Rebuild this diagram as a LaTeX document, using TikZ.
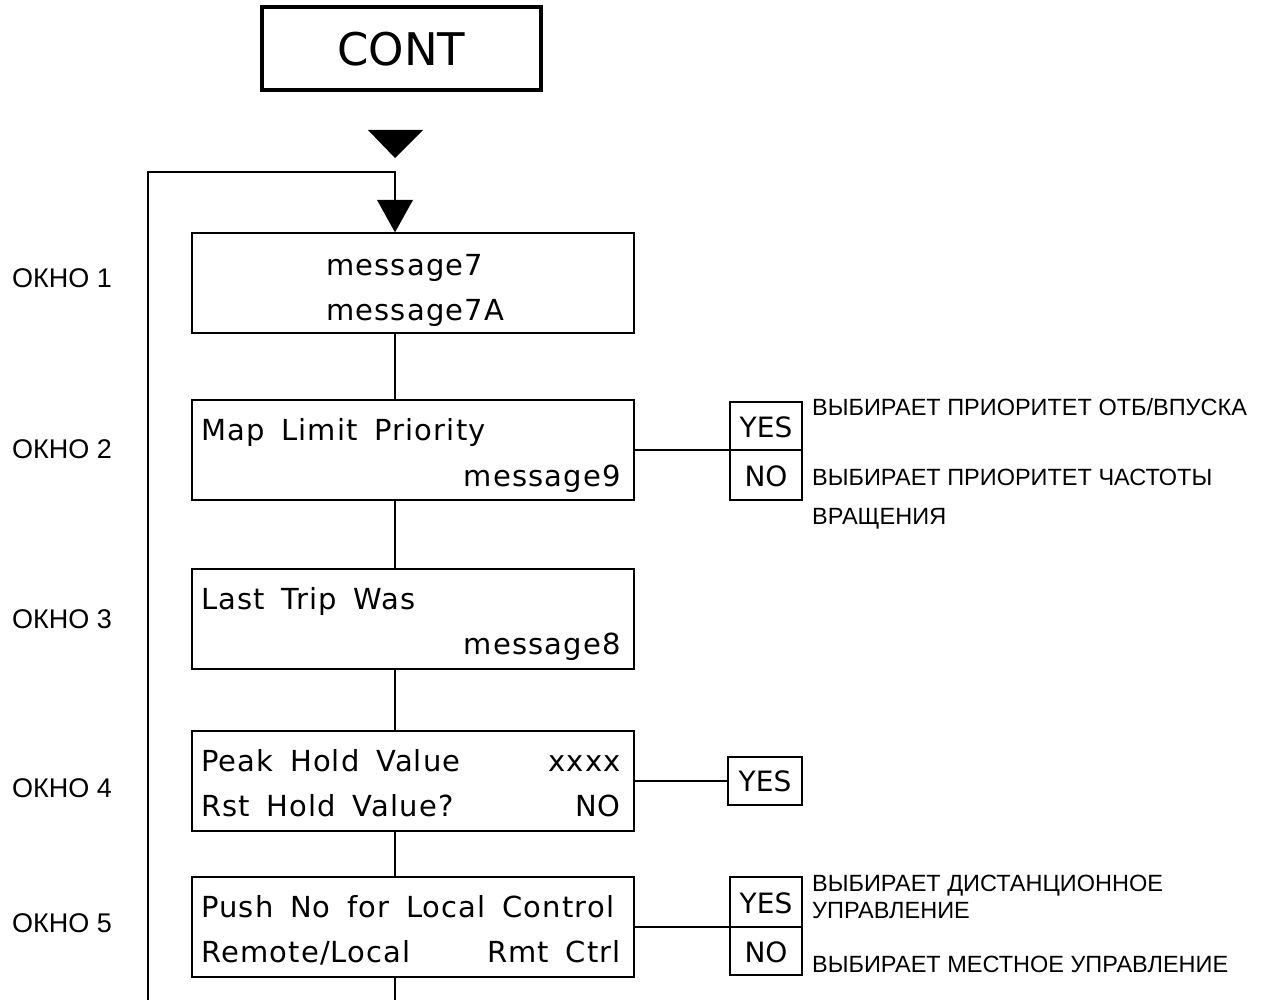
\documentclass[tikz,border=0pt]{standalone}
\usepackage{fontspec}
\setmainfont{Liberation Sans}
\newfontfamily\cadfont[WordSpace=1.6,LetterSpace=4]{DejaVu Sans}
\newfontfamily\cadwide{DejaVu Sans}
\begin{document}
\begin{tikzpicture}[x=1pt,y=-1pt,
  win/.style={draw, line width=1.3pt, minimum width=442pt, minimum height=100pt, inner sep=0pt},
  ynbox/.style={draw, line width=1.3pt, minimum width=72pt, inner sep=0pt},
  conn/.style={line width=1.3pt},
  bt/.style={font=\cadfont\fontsize{29}{29}\selectfont, inner sep=0pt},
  yn/.style={font=\cadwide\fontsize{28}{28}\selectfont, inner sep=0pt},
  okno/.style={font=\fontsize{27}{27}\selectfont, anchor=base west, inner sep=0pt},
  rus/.style={font=\fontsize{23.5}{23.5}\selectfont, anchor=base west, inner sep=0pt}]
\useasboundingbox (0,0) rectangle (1267,1000);
% CONT
\node[draw, line width=4pt, minimum width=279pt, minimum height=83pt, inner sep=0pt,
      font=\cadwide\fontsize{45}{45}\selectfont] (cont) at (401.5,49) {CONT};
% triangles
\coordinate (tx) at (395,0);
\fill (368,130) -- (423,130) -- (395,158) -- cycle;
% windows
\node[win] (w1) at (413,283) {};
\node[win] (w2) at (413,450) {};
\node[win] (w3) at (413,619) {};
\node[win] (w4) at (413,781) {};
\node[win] (w5) at (413,927) {};
% loop
\coordinate (lb) at (148,1000);
\coordinate (lt) at (148,172);
\coordinate (jt) at (395,172);
\coordinate (bot) at (395,1000);
\coordinate (t2) at (395,200);
\draw[conn] (lb) -- (lt) -- (jt) -- (t2);
\fill (377,200) -- (413,200) -- (w1.north -| tx) -- cycle;
\draw[conn] (w1.south -| tx) -- (w2.north -| tx);
\draw[conn] (w2.south -| tx) -- (w3.north -| tx);
\draw[conn] (w3.south -| tx) -- (w4.north -| tx);
\draw[conn] (w4.south -| tx) -- (w5.north -| tx);
\draw[conn] (w5.south -| tx) -- (bot);
% window texts
\node[bt, anchor=base west] (m7) at (326,276) {message7};
\node[bt, anchor=base west] (m7a) at (326,321) {message7A};
\node[bt, anchor=base west] (m2a) at (201,440) {Map Limit Priority};
\node[bt, anchor=base east] (m2b) at (621,486) {message9};
\node[bt, anchor=base west] (m3a) at (201,609) {Last Trip Was};
\node[bt, anchor=base east] (m3b) at (621,654) {message8};
\node[bt, anchor=base west] (m4a) at (201,771) {Peak Hold Value};
\node[bt, anchor=base east] (m4b) at (621,771) {xxxx};
\node[bt, anchor=base west] (m4c) at (201,816) {Rst Hold Value?};
\node[bt, anchor=base east] (m4d) at (621,816) {NO};
\node[bt, anchor=base west] (m5a) at (201,917) {Push No for Local Control};
\node[bt, anchor=base west] (m5b) at (201,962) {Remote/Local};
\node[bt, anchor=base east] (m5c) at (621,962) {Rmt Ctrl};
% OKNO labels
\node[okno] (o1) at (12,288) {ОКНО 1};
\node[okno] (o2) at (12,458) {ОКНО 2};
\node[okno] (o3) at (12,628) {ОКНО 3};
\node[okno] (o4) at (12,797) {ОКНО 4};
\node[okno] (o5) at (12,932) {ОКНО 5};
% window 2 yes/no
\node[ynbox, minimum height=98pt] (yn2) at (766,451) {};
\draw[conn] (yn2.west |- w2.east) -- (yn2.east |- w2.east);
\draw[conn] (w2.east) -- (yn2.west |- w2.east);
\node[yn] (y2) at (766,427) {YES};
\node[yn] (n2) at (766,476) {NO};
\node[rus] (r2a) at (812,415) {ВЫБИРАЕТ ПРИОРИТЕТ ОТБ/ВПУСКА};
\node[rus] (r2b) at (812,485) {ВЫБИРАЕТ ПРИОРИТЕТ ЧАСТОТЫ};
\node[rus] (r2c) at (812,524) {ВРАЩЕНИЯ};
% window 4 yes
\node[ynbox, minimum width=74pt, minimum height=48pt, yn] (y4) at (765,781) {YES};
\draw[conn] (w4.east) -- (y4.west);
% window 5 yes/no
\node[ynbox, minimum height=98pt] (yn5) at (766,926) {};
\draw[conn] (yn5.west |- w5.east) -- (yn5.east |- w5.east);
\draw[line width=2.4pt] (w5.east) -- (yn5.west |- w5.east);
\node[yn] (y5) at (766,903) {YES};
\node[yn] (n5) at (766,952) {NO};
\node[rus] (r5a) at (812,891) {ВЫБИРАЕТ ДИСТАНЦИОННОЕ};
\node[rus] (r5b) at (812,918) {УПРАВЛЕНИЕ};
\node[rus] (r5c) at (812,972) {ВЫБИРАЕТ МЕСТНОЕ УПРАВЛЕНИЕ};
\end{tikzpicture}
\end{document}
